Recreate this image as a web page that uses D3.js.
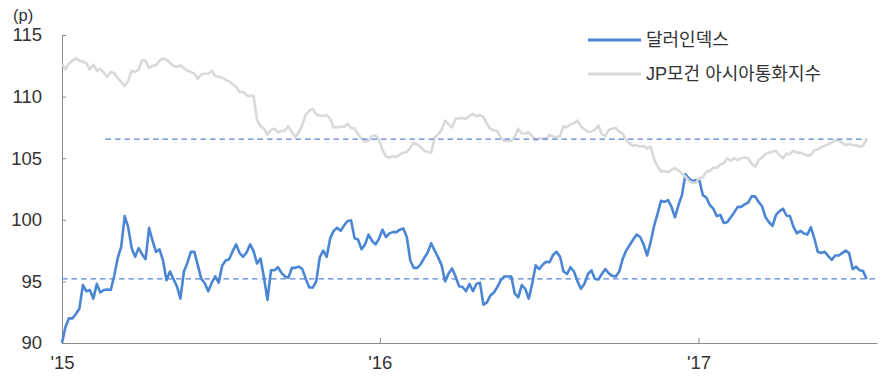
<!DOCTYPE html>
<html>
<head>
<meta charset="utf-8">
<script src="https://cdn.jsdelivr.net/npm/d3@7"></script>
<style>
  body { margin: 0; background: #ffffff; }
  svg text { font-family: "Liberation Sans", "Noto Sans CJK KR", sans-serif; fill: #333333; }
</style>
</head>
<body>
<svg id="chart" width="883" height="376"></svg>
<script>
// Observations every 4 days from 1 Jan 2015
var startDate = new Date(Date.UTC(2015, 0, 1));
var endDate = new Date(Date.UTC(2017, 6, 14));
var dates = d3.utcDay.range(startDate, endDate, 4);

// 달러인덱스
var dollarIndex = [
  90.0, 91.3, 92.0, 92.0, 92.35, 92.8, 94.7, 94.2, 94.3, 93.6,
  94.8, 94.1, 94.3, 94.35, 94.3, 95.45, 96.9, 97.8, 100.3, 99.4,
  97.7, 97.0, 97.7, 97.2, 96.8, 99.35, 98.3, 97.4, 97.6, 96.7,
  95.1, 95.8, 95.2, 94.6, 93.6, 95.8, 96.5, 97.4, 97.4, 96.3,
  95.2, 94.85, 94.2, 94.9, 95.4, 94.9, 96.3, 96.7, 96.8, 97.45,
  98.0, 97.3, 97.0, 97.35, 98.0, 97.45, 96.45, 96.85, 95.3, 93.5,
  95.9, 95.9, 96.15, 95.7, 95.4, 95.3, 96.1, 96.1, 96.2, 96.0,
  95.2, 94.5, 94.5, 95.0, 96.95, 97.5, 97.0, 98.5, 99.1, 99.35,
  99.1, 99.55, 99.9, 99.95, 98.5, 98.4, 97.6, 98.0, 98.8, 98.3,
  98.0, 98.45, 99.2, 98.6, 98.9, 99.0, 99.0, 99.2, 99.3, 98.6,
  96.7, 96.1, 96.1, 96.4, 96.9, 97.35, 98.1, 97.5, 96.95, 96.3,
  95.0, 95.65, 96.05, 95.4, 94.6, 94.55, 94.2, 94.8, 94.2, 94.8,
  94.9, 93.1, 93.3, 93.85, 94.1, 94.55, 95.1, 95.4, 95.4, 95.4,
  94.0, 93.7, 94.7, 94.4, 93.6, 94.8, 96.3, 96.0, 96.35, 96.6,
  96.55, 97.15, 97.4, 97.0, 95.8, 95.6, 96.15, 95.8, 95.0, 94.4,
  94.8, 95.6, 95.9, 95.2, 95.15, 95.6, 96.0, 95.65, 95.45, 95.4,
  95.8, 96.85, 97.5, 97.95, 98.4, 98.8, 98.6, 98.0, 97.1, 98.2,
  99.5, 100.5, 101.55, 101.45, 101.6, 101.05, 100.2, 101.2, 102.0, 103.7,
  103.35, 103.15, 103.2, 103.2, 102.0, 101.8, 101.2, 100.9, 100.3, 100.4,
  99.75, 99.8, 100.2, 100.6, 101.05, 101.05, 101.25, 101.4, 101.9, 101.9,
  101.45, 101.1, 100.2, 99.8, 99.5, 100.4, 100.7, 100.9, 100.35, 100.3,
  99.45, 98.9, 99.1, 98.9, 98.8, 99.4, 98.5, 97.4, 97.3, 97.4,
  97.05, 96.75, 97.1, 97.1, 97.3, 97.5, 97.3, 96.0, 96.2, 95.9,
  95.85, 95.2
];

// JP모건 아시아통화지수
var asiaCurrency = [
  112.7, 112.2, 112.7, 112.9, 113.1, 112.9, 112.85, 112.7, 112.2, 112.6,
  112.1, 112.25, 111.95, 111.6, 112.0, 111.9, 111.5, 111.2, 110.85, 111.3,
  112.1, 112.0, 112.2, 112.95, 112.9, 112.3, 112.5, 112.55, 112.9, 113.1,
  113.0, 112.75, 112.5, 112.4, 112.55, 112.3, 112.1, 112.0, 111.85, 111.45,
  111.8, 111.85, 111.85, 112.1, 111.65, 111.6, 111.55, 111.35, 111.25, 111.0,
  110.8, 110.35, 110.4, 110.1, 110.05, 110.05, 108.1, 107.6, 107.4, 106.9,
  107.3, 107.4, 107.1, 107.2, 107.25, 107.6, 107.1, 106.7, 107.1, 107.7,
  108.55, 108.85, 109.0, 108.55, 108.45, 108.45, 108.5, 108.2, 107.5, 107.5,
  107.55, 107.55, 107.8, 107.45, 107.4, 106.95, 106.6, 106.35, 106.4, 106.8,
  106.85, 106.5, 105.7, 105.15, 105.05, 105.15, 105.1, 105.3, 105.45, 105.5,
  105.85, 106.25, 106.1, 105.9, 105.6, 105.5, 105.45, 106.65, 106.95, 107.3,
  108.05, 107.75, 107.5, 108.2, 108.25, 108.25, 108.2, 108.45, 108.6, 108.4,
  108.5, 108.35, 107.8, 107.4, 107.25, 107.2, 106.65, 106.4, 106.4, 106.4,
  106.75, 107.4, 107.0, 107.0, 107.1, 106.8, 106.45, 106.6, 106.6, 106.6,
  106.9, 106.75, 106.7, 106.8, 107.6, 107.5, 107.75, 107.85, 108.05, 107.6,
  107.35, 107.15, 107.15, 107.3, 107.65, 106.95, 106.8, 107.3, 107.4, 107.45,
  107.15, 107.0, 106.45, 106.2, 106.0, 106.05, 105.95, 106.0, 105.8, 105.95,
  104.9, 104.35, 103.9, 103.95, 103.85, 104.05, 104.2, 104.0, 103.75, 103.5,
  103.15, 103.0, 103.0, 103.4, 103.45, 103.9, 103.95, 104.25, 104.2, 104.5,
  104.6, 105.0, 104.8, 105.0, 104.85, 105.0, 105.05, 105.0, 104.55, 104.3,
  104.85, 105.05, 105.35, 105.45, 105.55, 105.6, 105.25, 105.0, 105.35, 105.35,
  105.6, 105.45, 105.45, 105.35, 105.2, 105.25, 105.65, 105.7, 105.9, 106.0,
  106.15, 106.25, 106.45, 106.45, 106.25, 106.05, 106.15, 106.05, 106.05, 105.95,
  106.0, 106.55
];

var seriesNames = ["달러인덱스", "JP모건 아시아통화지수"];
var seriesColors = ["#4a86d3", "#d9d9d9"];
var yTicks = [90, 95, 100, 105, 110, 115];
var xTickYears = [2015, 2016, 2017];
var xTickLabels = ["'15", "'16", "'17"];

var svg = d3.select("#chart");

var x = d3.scaleUtc()
    .domain([startDate, new Date(Date.UTC(2017, 6, 25))])
    .range([62, 877]);
var y = d3.scaleLinear()
    .domain([90, 115])
    .range([343, 35]);

// Axes
var yAxis = svg.append("g")
    .attr("transform", "translate(62,0)")
    .call(d3.axisLeft(y)
        .tickValues(yTicks)
        .tickSizeInner(-4)
        .tickSizeOuter(0)
        .tickPadding(20));
var xAxis = svg.append("g")
    .attr("transform", "translate(0,343)")
    .call(d3.axisBottom(x)
        .tickValues(xTickYears.map(function (yr) { return new Date(Date.UTC(yr, 0, 1)); }))
        .tickFormat(function (d, i) { return xTickLabels[i]; })
        .tickSizeInner(-5)
        .tickSizeOuter(0)
        .tickPadding(13));

[yAxis, xAxis].forEach(function (g) {
    g.select(".domain").attr("stroke", "#8a8a8a");
    g.selectAll(".tick line").attr("stroke", "#8a8a8a");
    g.selectAll(".tick text")
        .attr("fill", "#333333")
        .style("font-size", "18.5px");
});

// unit label above the value axis
svg.append("text")
    .attr("x", 13)
    .attr("y", 21)
    .style("font-size", "16.5px")
    .text("(p)");

// Series lines
var line = d3.line()
    .x(function (d) { return x(d[0]); })
    .y(function (d) { return y(d[1]); });

[dollarIndex, asiaCurrency].forEach(function (values, k) {
    var pts = values.map(function (v, i) { return [dates[i], v]; });
    svg.append("path")
        .datum(pts)
        .attr("fill", "none")
        .attr("stroke", seriesColors[k])
        .attr("stroke-width", 2.6)
        .attr("stroke-linejoin", "round")
        .attr("d", line);
});

// Dashed levels at the latest readings
var lastDate = dates[dollarIndex.length - 1];
var levels = [
    {value: asiaCurrency[asiaCurrency.length - 1], from: new Date(Date.UTC(2015, 1, 20)), to: lastDate},
    {value: dollarIndex[dollarIndex.length - 1], from: startDate, to: new Date(Date.UTC(2017, 6, 25))}
];
svg.selectAll(".level")
    .data(levels)
    .enter().append("line")
    .attr("class", "level")
    .attr("x1", function (d) { return x(d.from); })
    .attr("x2", function (d) { return x(d.to); })
    .attr("y1", function (d) { return y(d.value); })
    .attr("y2", function (d) { return y(d.value); })
    .attr("stroke", "#5585cc")
    .attr("stroke-width", 1.3)
    .attr("stroke-dasharray", "5.5,4");

// Legend
var legend = svg.append("g").attr("transform", "translate(588,40)");
seriesNames.forEach(function (name, k) {
    var row = legend.append("g").attr("transform", "translate(0," + (k * 34) + ")");
    row.append("line")
        .attr("x1", 0).attr("x2", 53)
        .attr("stroke", seriesColors[k])
        .attr("stroke-width", 3);
    row.append("text")
        .attr("x", 58)
        .attr("dy", "0.35em")
        .style("font-size", "18px")
        .text(name);
});
</script>
</body>
</html>
